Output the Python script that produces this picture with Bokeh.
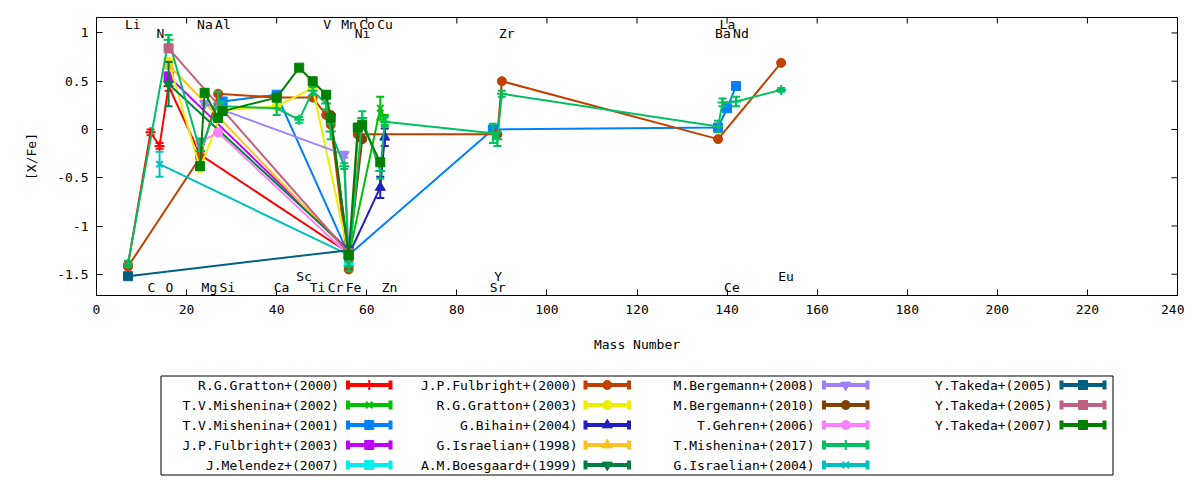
import math
from bokeh.plotting import figure
from bokeh.models import ColumnDataSource, FixedTicker, Range1d, CustomJSTickFormatter
from bokeh.layouts import column
from bokeh.embed import file_html
from bokeh.resources import INLINE
from bokeh.core.properties import value

# ---------------- data ----------------
ELEMENTS = ["Li", "C", "N", "O", "Na", "Mg", "Al", "Si", "Ca", "Sc", "Ti", "V", "Cr", "Mn",
            "Fe", "Ni", "Co", "Cu", "Zn", "Sr", "Y", "Zr", "Ba", "La", "Ce", "Nd", "Eu"]
MASSES = [7, 12, 14, 16, 23, 24, 27, 28, 40, 45, 48, 51, 52, 55,
          56, 58, 59, 63, 64, 88, 89, 90, 138, 139, 140, 142, 152]
LABEL_ROWS = ["t1", "b1", "t2", "b1", "t1", "b1", "t1", "b1", "b1", "b2", "b1", "t1", "b1", "t1",
              "b1", "t2", "t1", "t1", "b1", "b1", "b2", "t2", "t2", "t1", "b1", "t2", "b2"]

X_TICKS = [0, 20, 40, 60, 80, 100, 120, 140, 160, 180, 200, 220, 240]
Y_TICKS = [-1.5, -1, -0.5, 0, 0.5, 1]

GRATTON2000_EL = ["Li", "C", "N", "O", "Na", "Fe"]
GRATTON2000_VAL = [-1.40, -0.03, -0.17, 0.45, -0.26, -1.28]
GRATTON2000_ERR = [0.03, 0.03, 0.03, 0.05, 0.03, 0.02]

MISHENINA2002_EL = ["Fe", "Cu", "Zn"]
MISHENINA2002_VAL = [-1.32, 0.22, 0.10]
MISHENINA2002_ERR = [0.02, 0.12, 0.05]

MISHENINA2001_EL = ["Si", "Ca", "Fe", "Sr", "Ba", "Ce", "Nd"]
MISHENINA2001_VAL = [0.29, 0.36, -1.30, 0.00, 0.02, 0.22, 0.45]
MISHENINA2001_ERR = [0.02, 0.03, 0.02, 0.02, 0.02, 0.02, 0.02]

FULBRIGHT2003_EL = ["O", "Fe"]
FULBRIGHT2003_VAL = [0.55, -1.25]
FULBRIGHT2003_ERR = [0.03, 0.02]

MELENDEZ2007_EL = ["Fe"]
MELENDEZ2007_VAL = [-1.38]
MELENDEZ2007_ERR = [0.02]

FULBRIGHT2000_EL = ["Li", "Na", "Al", "Ca", "Ti", "V", "Cr", "Fe", "Ni", "Y", "Zr", "Ba", "Eu"]
FULBRIGHT2000_VAL = [-1.42, -0.29, 0.37, 0.33, 0.33, 0.15, 0.05, -1.45, -0.05, -0.05, 0.50, -0.10, 0.69]
FULBRIGHT2000_ERR = [0.02, 0.02, 0.02, 0.02, 0.02, 0.02, 0.02, 0.02, 0.02, 0.02, 0.02, 0.02, 0.02]

GRATTON2003_EL = ["O", "Na", "Si", "Ca", "Ti", "Fe"]
GRATTON2003_VAL = [0.70, -0.40, 0.20, 0.24, 0.43, -1.30]
GRATTON2003_ERR = [0.03, 0.03, 0.02, 0.02, 0.03, 0.02]

BIHAIN2004_EL = ["Fe", "Cu", "Zn"]
BIHAIN2004_VAL = [-1.30, -0.60, -0.08]
BIHAIN2004_ERR = [0.02, 0.11, 0.09]

ISRAELIAN1998_EL = ["O", "Fe"]
ISRAELIAN1998_VAL = [0.67, -1.28]
ISRAELIAN1998_ERR = [0.04, 0.02]

BOESGAARD1999_EL = ["O", "Fe"]
BOESGAARD1999_VAL = [0.47, -1.25]
BOESGAARD1999_ERR = [0.23, 0.02]

BERGEMANN2008_EL = ["Mg", "Mn", "Fe"]
BERGEMANN2008_VAL = [0.27, -0.26, -1.30]
BERGEMANN2008_ERR = [0.02, 0.03, 0.02]

BERGEMANN2010_EL = ["Cr", "Fe", "Co"]
BERGEMANN2010_VAL = [0.15, -1.33, -0.10]
BERGEMANN2010_ERR = [0.02, 0.02, 0.02]

GEHREN2006_EL = ["Na", "Al", "Fe"]
GEHREN2006_VAL = [-0.13, -0.03, -1.30]
GEHREN2006_ERR = [0.04, 0.03, 0.02]

MISHENINA2017_EL = ["Li", "O", "Na", "Al", "Si", "Ca", "Sc", "Ti", "V", "Cr", "Mn", "Fe", "Co",
                    "Cu", "Zn", "Sr", "Y", "Zr", "Ba", "La", "Nd", "Eu"]
MISHENINA2017_VAL = [-1.39, 0.93, -0.22, 0.27, 0.24, 0.22, 0.10, 0.40, 0.27, -0.02, -0.38, -1.42, 0.12,
                     -0.43, 0.08, -0.04, -0.10, 0.37, 0.03, 0.28, 0.29, 0.41]
MISHENINA2017_ERR = [0.03, 0.05, 0.12, 0.12, 0.05, 0.07, 0.03, 0.04, 0.06, 0.08, 0.03, 0.05, 0.07,
                     0.08, 0.05, 0.10, 0.07, 0.03, 0.06, 0.04, 0.05, 0.02]

ISRAELIAN2004_EL = ["N", "Fe"]
ISRAELIAN2004_VAL = [-0.36, -1.30]
ISRAELIAN2004_ERR = [0.13, 0.02]

TAKEDA2005A_EL = ["Li", "Fe"]
TAKEDA2005A_VAL = [-1.52, -1.25]
TAKEDA2005A_ERR = [0.02, 0.02]

TAKEDA2005B_EL = ["O", "Fe"]
TAKEDA2005B_VAL = [0.84, -1.28]
TAKEDA2005B_ERR = [0.03, 0.02]

TAKEDA2007_EL = ["Na", "Mg", "Al", "Si", "Ca", "Sc", "Ti", "V", "Cr", "Fe", "Ni", "Co", "Cu"]
TAKEDA2007_VAL = [-0.38, 0.38, 0.12, 0.19, 0.33, 0.64, 0.50, 0.36, 0.12, -1.30, 0.02, 0.05, -0.34]
TAKEDA2007_ERR = [0.02, 0.02, 0.02, 0.02, 0.02, 0.02, 0.02, 0.02, 0.02, 0.02, 0.02, 0.02, 0.02]

SERIES = [
    ("R.G.Gratton+(2000)", GRATTON2000_EL, GRATTON2000_VAL, GRATTON2000_ERR),
    ("T.V.Mishenina+(2002)", MISHENINA2002_EL, MISHENINA2002_VAL, MISHENINA2002_ERR),
    ("T.V.Mishenina+(2001)", MISHENINA2001_EL, MISHENINA2001_VAL, MISHENINA2001_ERR),
    ("J.P.Fulbright+(2003)", FULBRIGHT2003_EL, FULBRIGHT2003_VAL, FULBRIGHT2003_ERR),
    ("J.Melendez+(2007)", MELENDEZ2007_EL, MELENDEZ2007_VAL, MELENDEZ2007_ERR),
    ("J.P.Fulbright+(2000)", FULBRIGHT2000_EL, FULBRIGHT2000_VAL, FULBRIGHT2000_ERR),
    ("R.G.Gratton+(2003)", GRATTON2003_EL, GRATTON2003_VAL, GRATTON2003_ERR),
    ("G.Bihain+(2004)", BIHAIN2004_EL, BIHAIN2004_VAL, BIHAIN2004_ERR),
    ("G.Israelian+(1998)", ISRAELIAN1998_EL, ISRAELIAN1998_VAL, ISRAELIAN1998_ERR),
    ("A.M.Boesgaard+(1999)", BOESGAARD1999_EL, BOESGAARD1999_VAL, BOESGAARD1999_ERR),
    ("M.Bergemann+(2008)", BERGEMANN2008_EL, BERGEMANN2008_VAL, BERGEMANN2008_ERR),
    ("M.Bergemann+(2010)", BERGEMANN2010_EL, BERGEMANN2010_VAL, BERGEMANN2010_ERR),
    ("T.Gehren+(2006)", GEHREN2006_EL, GEHREN2006_VAL, GEHREN2006_ERR),
    ("T.Mishenina+(2017)", MISHENINA2017_EL, MISHENINA2017_VAL, MISHENINA2017_ERR),
    ("G.Israelian+(2004)", ISRAELIAN2004_EL, ISRAELIAN2004_VAL, ISRAELIAN2004_ERR),
    ("Y.Takeda+(2005)", TAKEDA2005A_EL, TAKEDA2005A_VAL, TAKEDA2005A_ERR),
    ("Y.Takeda+(2005)", TAKEDA2005B_EL, TAKEDA2005B_VAL, TAKEDA2005B_ERR),
    ("Y.Takeda+(2007)", TAKEDA2007_EL, TAKEDA2007_VAL, TAKEDA2007_ERR),
]

# ---------------- styles ----------------
COLORS = ["#FF0000", "#00C000", "#0080FF", "#C000FF", "#00EEEE", "#C04000", "#EEEE00", "#2020C0",
          "#FFC020", "#008040", "#A080FF", "#804000", "#FF80FF", "#00C060", "#00C0C0", "#006080",
          "#C06080", "#008000"]
MARKERS = ["cross", "x", "square", "square", "square", "circle", "circle", "triangle",
           "triangle", "inverted_triangle", "inverted_triangle", "circle", "circle", "cross", "x",
           "square", "square", "square"]
MARKER_SIZE = {"cross": 10, "x": 9, "square": 9, "circle": 9, "triangle": 10, "inverted_triangle": 10}

FONT = "DejaVu Sans Mono"
FS = "13px"
ROW_Y = {"t1": 1.087, "t2": 0.994, "b1": -1.632, "b2": -1.518}
Y_MIN, Y_MAX = -1.72, 1.16
X_MIN, X_MAX = 0, 240

# ---------------- main plot ----------------
p = figure(width=1184, height=356, x_range=Range1d(X_MIN, X_MAX), y_range=Range1d(Y_MIN, Y_MAX),
           output_backend="svg", toolbar_location=None,
           min_border_left=96, min_border_right=7, min_border_top=17, min_border_bottom=61)
p.grid.visible = False
p.outline_line_color = "black"
p.outline_line_width = 1
p.outline_line_alpha = 1.0
p.background_fill_color = "white"
p.border_fill_color = "white"

xa = p.xaxis[0]
ya = p.yaxis[0]
xa.ticker = FixedTicker(ticks=X_TICKS)
ya.ticker = FixedTicker(ticks=Y_TICKS)
ya.formatter = CustomJSTickFormatter(code="return String(tick);")
for ax in (xa, ya):
    ax.major_tick_in = 6
    ax.major_tick_out = 0
    ax.minor_tick_line_color = None
    ax.axis_line_color = "black"
    ax.major_tick_line_color = "black"
    ax.major_label_text_font = FONT
    ax.major_label_text_font_size = FS
    ax.major_label_text_color = "black"
    ax.axis_label_text_font = FONT
    ax.axis_label_text_font_size = FS
    ax.axis_label_text_font_style = "normal"
    ax.axis_label_text_color = "black"
xa.major_label_standoff = 9
ya.major_label_standoff = 8
xa.axis_label = "Mass Number"
ya.axis_label = "[X/Fe]"
xa.axis_label_standoff = 20
ya.axis_label_standoff = 15

# mirrored ticks on the top and right edges of the frame
p.ray(x=X_TICKS, y=[Y_MAX] * len(X_TICKS), length=6, length_units="screen",
      angle=-math.pi / 2, line_color="black", line_width=1)
p.ray(x=[X_MAX] * len(Y_TICKS), y=Y_TICKS, length=6, length_units="screen",
      angle=math.pi, line_color="black", line_width=1)

mass_of = dict(zip(ELEMENTS, MASSES))

for (label, els, vals, errs), color, marker in zip(SERIES, COLORS, MARKERS):
    xs = [mass_of[e] for e in els]
    src = ColumnDataSource(dict(x=xs, y=vals,
                                lo=[v - e for v, e in zip(vals, errs)],
                                hi=[v + e for v, e in zip(vals, errs)]))
    p.line("x", "y", source=src, line_color=color, line_width=2)
    p.segment(x0="x", y0="lo", x1="x", y1="hi", source=src, line_color=color, line_width=2)
    p.scatter("x", "lo", source=src, marker="dash", size=8, line_color=color, line_width=2)
    p.scatter("x", "hi", source=src, marker="dash", size=8, line_color=color, line_width=2)
    p.scatter("x", "y", source=src, marker=marker, size=MARKER_SIZE[marker],
              fill_color=color, line_color=color, line_width=2 if marker in ("cross", "x") else 1)

lab_src = ColumnDataSource(dict(x=MASSES, y=[ROW_Y[r] for r in LABEL_ROWS], t=ELEMENTS))
p.text("x", "y", text="t", source=lab_src, text_align="left", text_baseline="middle",
       x_offset=-3, text_font=value(FONT), text_font_size=value(FS), text_color="black")

# ---------------- legend (drawn below the plot, in page pixel coordinates) ----------------
L = figure(width=1184, height=124, x_range=Range1d(96, 1177), y_range=Range1d(480, 356),
           output_backend="svg", toolbar_location=None,
           min_border_left=96, min_border_right=7, min_border_top=0, min_border_bottom=0,
           x_axis_type=None, y_axis_type=None)
L.grid.visible = False
L.outline_line_color = None
L.quad(left=[160.5], right=[1112.5], top=[375.5], bottom=[474.5], fill_color=None,
       line_color="black", line_width=1)

COL_TEXT_END = [338.5, 577, 814, 1052]
COL_X0 = [347.5, 585, 823.5, 1061]
COL_X1 = [390, 628.5, 867, 1104]
ROWS = [384.5, 404.5, 424.5, 444.5, 464.5]

tx, ty, tt = [], [], []
for i, ((label, els, vals, errs), color, marker) in enumerate(zip(SERIES, COLORS, MARKERS)):
    c, r = divmod(i, 5)
    y = ROWS[r]
    x0, x1 = COL_X0[c], COL_X1[c]
    tx.append(COL_TEXT_END[c])
    ty.append(y)
    tt.append(label)
    L.segment(x0=[x0], y0=[y], x1=[x1], y1=[y], line_color=color, line_width=4)
    L.segment(x0=[x0, x1], y0=[y - 4.5, y - 4.5], x1=[x0, x1], y1=[y + 4.5, y + 4.5],
              line_color=color, line_width=4)
    L.scatter([(x0 + x1) / 2], [y], marker=marker, size=MARKER_SIZE[marker],
              fill_color=color, line_color=color, line_width=2 if marker in ("cross", "x") else 1)

L.text(x=tx, y=ty, text=tt, text_align="right", text_baseline="middle",
       text_font=value(FONT), text_font_size=value(FS), text_color="black")

layout = column(p, L, spacing=0)
open("out.html", "w").write(file_html(layout, INLINE))
